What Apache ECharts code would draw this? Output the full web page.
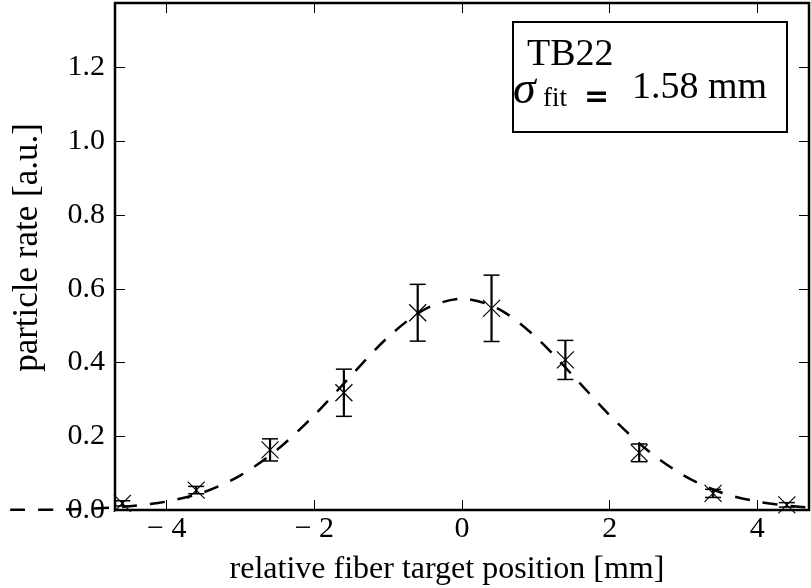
<!DOCTYPE html>
<html>
<head>
<meta charset="utf-8">
<script src="https://cdn.jsdelivr.net/npm/echarts@6/dist/echarts.min.js"></script>
<style>html,body{margin:0;padding:0;background:#fff}#c{width:811px;height:588px}</style>
</head>
<body>
<div id="c"></div>
<script>
const xPos = [-4.6, -3.6, -2.6, -1.6, -0.6, 0.4, 1.4, 2.4, 3.4, 4.4];
const rate = [0.018, 0.054, 0.163, 0.318, 0.535, 0.547, 0.407, 0.155, 0.045, 0.014];
const rateErr = [0.007, 0.010, 0.030, 0.064, 0.077, 0.090, 0.053, 0.024, 0.011, 0.006];
// fitted curve
const fitX = [-6.5, -6, -5.5, -5, -4.5, -4, -3.5, -3, -2.5, -2, -1.5, -1, -0.5, 0, 0.5, 1, 1.5, 2, 2.5, 3, 3.5, 4, 4.5, 5];
const fitY = [0.000, 0.001, 0.001, 0.004, 0.010, 0.023, 0.048, 0.094, 0.164, 0.257, 0.365, 0.469, 0.545, 0.573, 0.545, 0.469, 0.365, 0.257, 0.164, 0.094, 0.048, 0.023, 0.010, 0.004];
// tick labels
const xTicks = [-4, -2, 0, 2, 4];
const yTicks = [0, 0.2, 0.4, 0.6, 0.8, 1.0, 1.2];

const FONT = 'Liberation Serif';
const chart = echarts.init(document.getElementById('c'), null, {renderer: 'canvas'});

const pts = xPos.map((x, i) => [x, rate[i], rateErr[i]]);
const fit = fitX.map((x, i) => [x, fitY[i]]);

// plot area
const G = {left: 115, right: 2, top: 3, bottom: 78};
const X_MIN = -4.7, X_MAX = 4.7, Y_MIN = 0, Y_MAX = 1.375;
// the fit line is not clipped to the axes: a second, full-width grid with the same scale
const pxPerUnit = (811 - G.left - G.right) / (X_MAX - X_MIN);
const X2_MIN = X_MIN - G.left / pxPerUnit, X2_MAX = X_MAX + G.right / pxPerUnit;

const tickCommon = {show: true, inside: true, length: 10, lineStyle: {color: '#000', width: 1}};
const noLine = {show: false, onZero: false};

chart.setOption({
  animation: false,
  backgroundColor: '#fff',
  grid: [
    Object.assign({show: true, borderColor: '#000', borderWidth: 2.5, backgroundColor: 'transparent', containLabel: false, outerBoundsMode: 'none'}, G),
    {left: 0, right: 0, top: G.top, bottom: G.bottom, show: false, containLabel: false, outerBoundsMode: 'none'}
  ],
  xAxis: [{
    type: 'value', min: X_MIN, max: X_MAX, position: 'bottom', gridIndex: 0,
    name: 'relative fiber target position [mm]', nameLocation: 'middle', nameGap: 44,
    nameTextStyle: {fontFamily: FONT, fontSize: 32, color: '#000', padding: [0, 30, 0, 0]},
    axisLine: noLine, splitLine: {show: false},
    axisTick: Object.assign({customValues: xTicks}, tickCommon),
    axisLabel: {customValues: xTicks, margin: 4, fontFamily: FONT, fontSize: 30, color: '#000',
      formatter: v => v < 0 ? '\u2212 ' + Math.abs(v) : String(v)}
  }, {
    type: 'value', min: X_MIN, max: X_MAX, position: 'top', gridIndex: 0,
    axisLine: noLine, splitLine: {show: false}, axisLabel: {show: false},
    axisTick: Object.assign({customValues: xTicks}, tickCommon)
  }, {
    type: 'value', min: X2_MIN, max: X2_MAX, gridIndex: 1, show: false
  }],
  yAxis: [{
    type: 'value', min: Y_MIN, max: Y_MAX, position: 'left', gridIndex: 0,
    name: 'particle rate [a.u.]', nameLocation: 'middle', nameGap: 70, nameRotate: 90,
    nameTextStyle: {fontFamily: FONT, fontSize: 35, color: '#000', padding: [0, 0, 0, 18]},
    axisLine: noLine, splitLine: {show: false},
    axisTick: Object.assign({customValues: yTicks}, tickCommon),
    axisLabel: {customValues: yTicks, margin: 10, fontFamily: FONT, fontSize: 30, color: '#000',
      formatter: v => v.toFixed(1)}
  }, {
    type: 'value', min: Y_MIN, max: Y_MAX, position: 'right', gridIndex: 0,
    axisLine: noLine, splitLine: {show: false}, axisLabel: {show: false},
    axisTick: Object.assign({customValues: yTicks}, tickCommon)
  }, {
    type: 'value', min: Y_MIN, max: Y_MAX, gridIndex: 1, show: false
  }],
  series: [{
    type: 'line', data: fit, xAxisIndex: 2, yAxisIndex: 2, smooth: 0.3, symbol: 'none', showSymbol: false, clip: false,
    lineStyle: {color: '#000', width: 2.5, type: [15, 13]}, z: 3, silent: true
  }, {
    type: 'custom', data: pts, xAxisIndex: 0, yAxisIndex: 0, z: 4, silent: true,
    renderItem: (params, api) => {
      const x = api.value(0), y = api.value(1), e = api.value(2);
      const c = api.coord([x, y]);
      const top = api.coord([x, y + e]);
      const bot = api.coord([x, y - e]);
      const cw = 8, m = 8.5;
      const s = {stroke: '#000', lineWidth: 1.5};
      return {type: 'group', children: [
        {type: 'line', shape: {x1: c[0], y1: top[1], x2: c[0], y2: bot[1]}, style: {stroke: '#000', lineWidth: 2.2}},
        {type: 'line', shape: {x1: c[0] - cw, y1: top[1], x2: c[0] + cw, y2: top[1]}, style: s},
        {type: 'line', shape: {x1: c[0] - cw, y1: bot[1], x2: c[0] + cw, y2: bot[1]}, style: s},
        {type: 'line', shape: {x1: c[0] - m, y1: c[1] - m, x2: c[0] + m, y2: c[1] + m}, style: {stroke: '#000', lineWidth: 1.2}},
        {type: 'line', shape: {x1: c[0] - m, y1: c[1] + m, x2: c[0] + m, y2: c[1] - m}, style: {stroke: '#000', lineWidth: 1.2}}
      ]};
    }
  }],
  graphic: [
    {type: 'rect', z: 10, shape: {x: 513, y: 22, width: 274, height: 110}, style: {fill: '#fff', stroke: '#000', lineWidth: 2}},
    {type: 'text', z: 11, style: {x: 527, y: 55, text: 'TB22', font: '38px "Liberation Serif"', fill: '#000', verticalAlign: 'middle', align: 'left'}},
    {type: 'text', z: 11, style: {x: 513, y: 91, text: '\u03c3', font: 'italic 46px "Liberation Serif"', fill: '#000', verticalAlign: 'middle', align: 'left'}},
    {type: 'text', z: 11, style: {x: 543, y: 99, text: 'fit', font: '27px "Liberation Serif"', fill: '#000', verticalAlign: 'middle', align: 'left'}},
    {type: 'text', z: 11, style: {x: 584, y: 98, text: '=', font: 'bold 30px "DejaVu Sans"', fill: '#000', verticalAlign: 'middle', align: 'left'}},
    {type: 'text', z: 11, style: {x: 632, y: 88, text: '1.58 mm', font: '38px "Liberation Serif"', fill: '#000', verticalAlign: 'middle', align: 'left'}}
  ]
});
</script>
</body>
</html>
